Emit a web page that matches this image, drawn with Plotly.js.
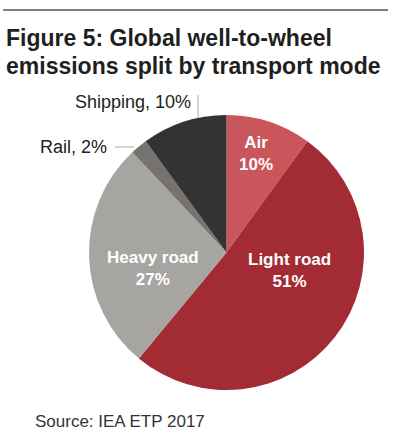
<!DOCTYPE html>
<html><head><meta charset="utf-8">
<script src="https://cdn.plot.ly/plotly-3.0.1.min.js"></script>
<style>html,body{margin:0;padding:0;background:#fff;}#chart{width:395px;height:443px;}</style>
</head><body><div id="chart"></div>
<script>
const modes = ["Air", "Light road", "Heavy road", "Rail", "Shipping"];
const shares = [10, 51, 27, 2, 10];
const colors = ["#c9565a", "#a32b34", "#a6a5a2", "#75726f", "#333333"];
const titleLines = ["Figure 5: Global well-to-wheel", "emissions split by transport mode"];
const source = "Source: IEA ETP 2017";

const FONT = "Liberation Sans, Arial, Helvetica, sans-serif";
const W = 395, H = 443;
const px = x => x / W, py = y => 1 - y / H;

// label placement (layout, in page pixels): inside labels and outside labels
const insideAt = {0: [256, 153], 1: [289, 270], 2: [153, 268]};
const outsideAt = {4: [193, 102], 3: [109, 147]};
const titleTops = [23, 51];

const trace = {
  type: "pie",
  labels: modes,
  values: shares,
  sort: false,
  direction: "clockwise",
  rotation: 0,
  marker: {colors: colors, line: {width: 0}},
  textinfo: "none",
  hoverinfo: "none",
  showlegend: false,
  domain: {x: [px(88), px(365)], y: [py(390), py(115)]}
};

const annotations = [
  {xref: "paper", yref: "paper", x: px(33), y: py(421), xanchor: "left", yanchor: "middle", showarrow: false,
   text: source, font: {family: FONT, size: 17, color: "#333333"}}
];
titleLines.forEach((t, i) => {
  annotations.push({xref: "paper", yref: "paper", x: px(4), y: py(titleTops[i]), xanchor: "left", yanchor: "top", align: "left", showarrow: false,
    text: "<b>" + t + "</b>", font: {family: FONT, size: 23, color: "#1f1f1f"}});
});
Object.keys(insideAt).forEach(k => {
  const i = +k, p = insideAt[k];
  annotations.push({xref: "paper", yref: "paper", x: px(p[0]), y: py(p[1]), xanchor: "center", yanchor: "middle", showarrow: false,
    text: "<b>" + modes[i] + "<br>" + shares[i] + "%</b>", font: {family: FONT, size: 17, color: "#ffffff"}});
});
Object.keys(outsideAt).forEach(k => {
  const i = +k, p = outsideAt[k];
  annotations.push({xref: "paper", yref: "paper", x: px(p[0]), y: py(p[1]), xanchor: "right", yanchor: "middle", showarrow: false,
    text: modes[i] + ", " + shares[i] + "%", font: {family: FONT, size: 18, color: "#222222"}});
});

const layout = {
  width: W, height: H,
  margin: {l: 0, r: 0, t: 0, b: 0},
  paper_bgcolor: "#ffffff",
  showlegend: false,
  shapes: [
    {type: "line", xref: "paper", yref: "paper", x0: px(3), x1: px(388), y0: py(10), y1: py(10), line: {color: "#555555", width: 1.5}},
    {type: "line", xref: "paper", yref: "paper", x0: px(198), x1: px(198), y0: py(95), y1: py(118), line: {color: "#aaaaaa", width: 1}},
    {type: "line", xref: "paper", yref: "paper", x0: px(115), x1: px(134), y0: py(147), y1: py(147), line: {color: "#aaaaaa", width: 1}}
  ],
  annotations: annotations
};

Plotly.newPlot("chart", [trace], layout, {displayModeBar: false, staticPlot: true});
</script></body></html>
